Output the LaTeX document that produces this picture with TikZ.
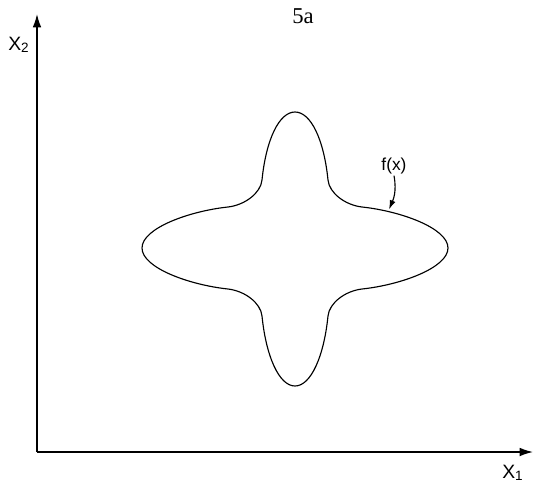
\documentclass[tikz,border=0pt]{standalone}
\usepackage{fontspec}
\setmainfont{Liberation Sans}
\newfontfamily\serifnum{Liberation Serif}
\usetikzlibrary{arrows.meta}
\begin{document}
\begin{tikzpicture}[x=0.75pt,y=-0.75pt,
  axis/.style={line width=1.1pt,-{Latex[length=10pt,width=6.5pt]}},
  curve/.style={line width=0.85pt},
  lbl/.style={inner sep=0pt,font=\fontsize{14.5pt}{16pt}\selectfont},
  pointer/.style={line width=0.85pt,-{Latex[length=7pt,width=4.5pt]}}]
\useasboundingbox (0,0) rectangle (533,490);
\coordinate (O) at (37,452);
\coordinate (Ytop) at (37,14);
\coordinate (Xend) at (533,452);
\draw[axis] (O) -- (Ytop);
\draw[axis] (O) -- (Xend);
\node[lbl,anchor=base west] (x2) at (8,50) {X\textsubscript{2}};
\node[lbl,anchor=base west] (x1) at (502,478) {X\textsubscript{1}};
\node[inner sep=0pt,font=\serifnum\fontsize{17pt}{19pt}\selectfont] (title) at (303,16) {5a};
\begin{scope}[shift={(295,248)}]
\draw[curve] (153,0) .. controls (153,-20) and (105,-37) .. (67,-41)
  .. controls (50,-43) and (34.3,-55) .. (33,-68)
  .. controls (29,-108) and (16,-136) .. (0,-136)
  .. controls (-16,-136) and (-29,-108) .. (-33,-68)
  .. controls (-34.3,-55) and (-50,-43) .. (-67,-41)
  .. controls (-105,-37) and (-153,-20) .. (-153,0)
  .. controls (-153,20) and (-105,37) .. (-67,41)
  .. controls (-50,43) and (-34.3,55) .. (-33,68)
  .. controls (-29,108) and (-16,138) .. (0,138)
  .. controls (16,138) and (29,108) .. (33,68)
  .. controls (34.3,55) and (50,43) .. (67,41)
  .. controls (105,37) and (153,20) .. (153,0) -- cycle;
\coordinate (hit) at (94,-38.5);
\end{scope}
\node[inner sep=1pt,font=\fontsize{13pt}{15pt}\selectfont] (fx) at (394,166) {f(x)};
\draw[pointer] (fx.south) .. controls (397,192) and (393,200) .. (hit);
\end{tikzpicture}
\end{document}
